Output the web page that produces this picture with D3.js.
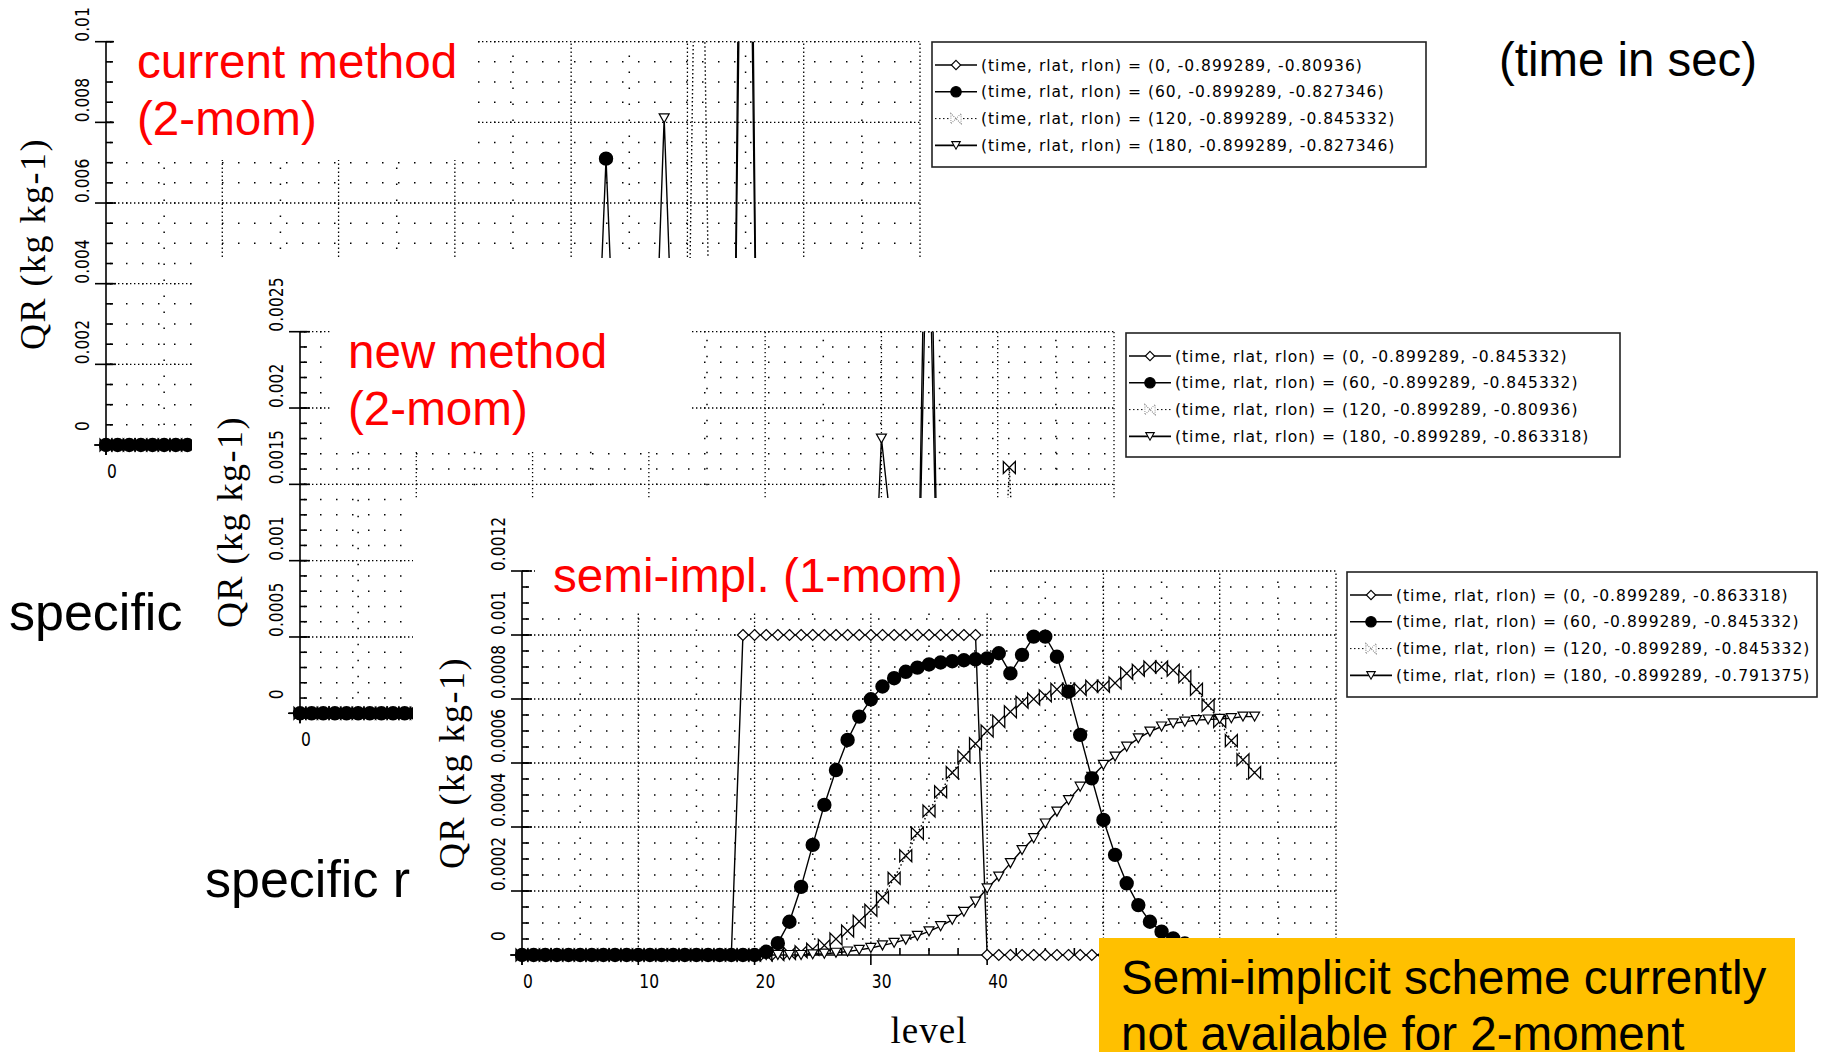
<!DOCTYPE html>
<html>
<head>
<meta charset="utf-8">
<script src="https://cdn.jsdelivr.net/npm/d3@7"></script>
<style>
    html, body { margin: 0; padding: 0; background: #fff; }
    svg { display: block; }
</style>
</head>
<body>
<svg id="chart" width="1839" height="1052"></svg>
<script>
// model levels (x axis) and axis ticks
const levels = d3.range(64);
const levelTicks = [0, 10, 20, 30, 40, 50, 60, 70];
const currentTicks = [0, 0.002, 0.004, 0.006, 0.008, 0.01];
const newTicks = [0, 0.0005, 0.001, 0.0015, 0.002, 0.0025];
const semiTicks = [0, 0.0002, 0.0004, 0.0006, 0.0008, 0.001, 0.0012];

// level labels that are not hidden behind the overlapping pictures
const currentLevelLabels = [0];
const newLevelLabels = [0];
const semiLevelLabels = [0, 10, 20, 30, 40];

// legend labels
const currentLabels = [
    "(time, rlat, rlon) = (0, -0.899289, -0.80936)",
    "(time, rlat, rlon) = (60, -0.899289, -0.827346)",
    "(time, rlat, rlon) = (120, -0.899289, -0.845332)",
    "(time, rlat, rlon) = (180, -0.899289, -0.827346)"
];
const newLabels = [
    "(time, rlat, rlon) = (0, -0.899289, -0.845332)",
    "(time, rlat, rlon) = (60, -0.899289, -0.845332)",
    "(time, rlat, rlon) = (120, -0.899289, -0.80936)",
    "(time, rlat, rlon) = (180, -0.899289, -0.863318)"
];
const semiLabels = [
    "(time, rlat, rlon) = (0, -0.899289, -0.863318)",
    "(time, rlat, rlon) = (60, -0.899289, -0.845332)",
    "(time, rlat, rlon) = (120, -0.899289, -0.845332)",
    "(time, rlat, rlon) = (180, -0.899289, -0.791375)"
];

// QR per level, current method (2-mom)
const current0 = [
    0, 0, 0, 0, 0, 0, 0, 0, 0, 0, 0, 0, 0, 0, 0, 0,
    0, 0, 0, 0, 0, 0, 0, 0, 0, 0, 0, 0, 0, 0, 0, 0,
    0, 0, 0, 0, 0, 0, 0, 0, 0, 0, 0, 0, 0, 0, 0, 0,
    0, 0, 0, 0, 0, 0, 0, 0.03, 0, 0, 0, 0, 0, 0, 0, 0
];
const current60 = [
    0, 0, 0, 0, 0, 0, 0, 0, 0, 0, 0, 0, 0, 0, 0, 0,
    0, 0, 0, 0, 0, 0, 0, 0, 0, 0, 0, 0, 0, 0, 0, 0,
    0, 0, 0, 0, 0, 0, 0, 0, 0, 0, 0, 0.0071, 0, 0, 0, 0,
    0, 0, 0, 0, 0, 0, 0, 0.024, 0, 0, 0, 0, 0, 0, 0, 0
];
const current120 = [
    0, 0, 0, 0, 0, 0, 0, 0, 0, 0, 0, 0, 0, 0, 0, 0,
    0, 0, 0, 0, 0, 0, 0, 0, 0, 0, 0, 0, 0, 0, 0, 0,
    0, 0, 0, 0, 0, 0, 0, 0, 0, 0, 0, 0, 0, 0, 0, 0,
    0, 0, 0, 0.02, 0, 0, 0, 0, 0, 0, 0, 0, 0, 0, 0, 0
];
const current180 = [
    0, 0, 0, 0, 0, 0, 0, 0, 0, 0, 0, 0, 0, 0, 0, 0,
    0, 0, 0, 0, 0, 0, 0, 0, 0, 0, 0, 0, 0, 0, 0, 0,
    0, 0, 0, 0, 0, 0, 0, 0, 0, 0, 0, 0, 0, 0, 0, 0,
    0.0081, 0, 0, 0, 0, 0, 0, 0, 0, 0, 0, 0, 0, 0, 0, 0
];

// QR per level, new method (2-mom)
const new0 = [
    0, 0, 0, 0, 0, 0, 0, 0, 0, 0, 0, 0, 0, 0, 0, 0,
    0, 0, 0, 0, 0, 0, 0, 0, 0, 0, 0, 0, 0, 0, 0, 0,
    0, 0, 0, 0, 0, 0, 0, 0, 0, 0, 0, 0, 0, 0, 0, 0,
    0, 0, 0, 0, 0, 0, 0.0045, 0, 0, 0, 0, 0, 0, 0, 0, 0
];
const new60 = [
    0, 0, 0, 0, 0, 0, 0, 0, 0, 0, 0, 0, 0, 0, 0, 0,
    0, 0, 0, 0, 0, 0, 0, 0, 0, 0, 0, 0, 0, 0, 0, 0,
    0, 0, 0, 0, 0, 0, 0, 0, 0, 0, 0, 0, 0, 0, 0, 0,
    0, 0, 0, 0, 0, 0, 0.0036, 0, 0, 0, 0, 0, 0, 0, 0, 0
];
const new120 = [
    0, 0, 0, 0, 0, 0, 0, 0, 0, 0, 0, 0, 0, 0, 0, 0,
    0, 0, 0, 0, 0, 0, 0, 0, 0, 0, 0, 0, 0, 0, 0, 0,
    0, 0, 0, 0, 0, 0, 0, 0, 0, 0, 0, 0, 0, 0, 0, 0,
    0, 0, 0, 0, 0, 0, 0, 0, 0, 0, 0, 0, 0, 0.00161, 0, 0
];
const new180 = [
    0, 0, 0, 0, 0, 0, 0, 0, 0, 0, 0, 0, 0, 0, 0, 0,
    0, 0, 0, 0, 0, 0, 0, 0, 0, 0, 0, 0, 0, 0, 0, 0,
    0, 0, 0, 0, 0, 0, 0, 0, 0, 0, 0, 0, 0, 0, 0, 0,
    0, 0, 0.0018, 0.0011, 0.00137, 0, 0, 0, 0, 0, 0, 0, 0, 0, 0, 0
];

// QR per level, semi-implicit (1-mom)
const semi0 = [
    0, 0, 0, 0, 0, 0, 0, 0, 0, 0, 0, 0, 0, 0, 0, 0,
    0, 0, 0, 0.001, 0.001, 0.001, 0.001, 0.001, 0.001, 0.001, 0.001, 0.001, 0.001, 0.001, 0.001, 0.001,
    0.001, 0.001, 0.001, 0.001, 0.001, 0.001, 0.001, 0.001, 0, 0, 0, 0, 0, 0, 0, 0,
    0, 0, 0, 0, 0, 0, 0, 0, 0, 0, 0, 0, 0, 0, 0, 0
];
const semi60 = [
    0, 0, 0, 0, 0, 0, 0, 0, 0, 0, 0, 0, 0, 0, 0, 0,
    0, 0, 0, 0, 0, 0.00001, 0.000037, 0.000104, 0.000213, 0.000344, 0.000469, 0.000578, 0.000672, 0.000745, 0.000799, 0.000839,
    0.000865, 0.000885, 0.000898, 0.000908, 0.000914, 0.000918, 0.000921, 0.000924, 0.000927, 0.000943, 0.00088, 0.000938, 0.000995, 0.000995, 0.000932, 0.000823,
    0.000688, 0.000552, 0.000422, 0.000313, 0.000224, 0.000156, 0.000104, 0.000073, 0.000052, 0.000036, 0.000025, 0.000017, 0.000011, 0.000007, 0.000004, 0.000002
];
const semi120 = [
    0, 0, 0, 0, 0, 0, 0, 0, 0, 0, 0, 0, 0, 0, 0, 0,
    0, 0, 0, 0, 0, 0, 0.000002, 0.000005, 0.00001, 0.000018, 0.00003, 0.00005, 0.000075, 0.000105, 0.00014, 0.00018,
    0.00024, 0.00031, 0.00038, 0.00045, 0.00051, 0.00057, 0.00062, 0.00066, 0.0007, 0.00073, 0.00076, 0.00079, 0.0008, 0.00081, 0.00083, 0.00083,
    0.00083, 0.00084, 0.00084, 0.00085, 0.00088, 0.00089, 0.0009, 0.0009, 0.00089, 0.00087, 0.00083, 0.00078, 0.00073, 0.00067, 0.00061, 0.00057
];
const semi180 = [
    0, 0, 0, 0, 0, 0, 0, 0, 0, 0, 0, 0, 0, 0, 0, 0,
    0, 0, 0, 0, 0, 0, 0, 0, 0, 0.000002, 0.000004, 0.000007, 0.000011, 0.000016, 0.000022, 0.00003,
    0.000038, 0.000048, 0.00006, 0.000074, 0.00009, 0.00011, 0.000135, 0.000167, 0.000208, 0.000245, 0.000287, 0.000328, 0.000365, 0.000411, 0.000448, 0.000484,
    0.000526, 0.000557, 0.000594, 0.00062, 0.000651, 0.000677, 0.000698, 0.000714, 0.000724, 0.000729, 0.000734, 0.000736, 0.000738, 0.00074, 0.000745, 0.000745
];

const shapes = {
    diamond: "M0,-5.5L5.5,0L0,5.5L-5.5,0Z",
    circle: "M6.2,0A6.2,6.2 0 1,1 -6.2,0A6.2,6.2 0 1,1 6.2,0Z",
    bowtie: "M-6,-6L-6,6L6,-6L6,6Z",
    triangle: "M-5,-4.5L5,-4.5L0,4.5Z"
};

// one style per time (0, 60, 120, 180 s)
const seriesStyle = [
    { shape: shapes.diamond, fill: "#fff", dash: null, width: 1.2 },
    { shape: shapes.circle, fill: "#000", dash: null, width: 2 },
    { shape: shapes.bowtie, fill: "#fff", dash: "1.5,2.5", width: 1.3 },
    { shape: shapes.triangle, fill: "#fff", dash: null, width: 1.2 }
];

const svg = d3.select("#chart");
svg.append("rect").attr("width", 1839).attr("height", 1052).attr("fill", "#fff");

function drawPanel(p) {
    const x = d3.scaleLinear().domain([0, 70]).range([p.left, p.left + 814]);
    const y = d3.scaleLinear().domain([0, p.yMax]).range([p.bottom, p.top]);
    const g = svg.append("g");

    if (p.image) {
        g.append("rect")
            .attr("x", p.image[0]).attr("y", p.image[1])
            .attr("width", p.image[2]).attr("height", p.image[3])
            .attr("fill", "#fff");
    }

    const clipId = "clip-" + p.name;
    g.append("clipPath").attr("id", clipId).append("rect")
        .attr("x", p.left - 10).attr("y", p.top)
        .attr("width", 834).attr("height", p.bottom - p.top + 12);

    // dotted background
    const minorCount = Math.round(p.yMax / p.yMinor);
    const minorY = d3.range(1, minorCount + 1).map(i => i * p.yMinor);
    const grid = g.append("g").attr("stroke", "#000").attr("fill", "none");

    grid.selectAll(".minor-row")
        .data(minorY)
        .join("line")
        .attr("x1", x(0) + 4).attr("x2", x(70))
        .attr("y1", d => y(d)).attr("y2", d => y(d))
        .attr("stroke-width", 1.5)
        .attr("stroke-dasharray", "1.5,14.5");

    grid.selectAll(".minor-col")
        .data([5, 15, 25, 35, 45, 55, 65])
        .join("line")
        .attr("x1", d => x(d)).attr("x2", d => x(d))
        .attr("y1", y(0) - 4).attr("y2", y(p.yMax))
        .attr("stroke-width", 1.5)
        .attr("stroke-dasharray", "1.5,14.5");

    grid.selectAll(".major-row")
        .data(p.ticks.filter(t => t > 0))
        .join("line")
        .attr("x1", x(0)).attr("x2", x(70))
        .attr("y1", d => y(d)).attr("y2", d => y(d))
        .attr("stroke-width", 1.3)
        .attr("stroke-dasharray", "1.4,2.6");

    grid.selectAll(".major-col")
        .data(levelTicks.filter(t => t > 0))
        .join("line")
        .attr("x1", d => x(d)).attr("x2", d => x(d))
        .attr("y1", y(0)).attr("y2", y(p.yMax))
        .attr("stroke-width", 1.3)
        .attr("stroke-dasharray", "1.4,2.6");

    // axes
    const axis = g.append("g").attr("stroke", "#000").attr("stroke-width", 1.6);
    axis.append("line")
        .attr("x1", p.left).attr("x2", p.left)
        .attr("y1", y(0) + 10).attr("y2", y(p.yMax));
    axis.append("line")
        .attr("x1", p.left - 12).attr("x2", x(70))
        .attr("y1", y(0)).attr("y2", y(0));

    axis.selectAll(".ytick")
        .data(p.ticks)
        .join("line")
        .attr("x1", p.left - 11).attr("x2", p.left + 10)
        .attr("y1", d => y(d)).attr("y2", d => y(d));

    axis.selectAll(".yminor")
        .data(minorY)
        .join("line")
        .attr("x1", p.left).attr("x2", p.left + 7)
        .attr("y1", d => y(d)).attr("y2", d => y(d));

    axis.selectAll(".xtick")
        .data(levelTicks)
        .join("line")
        .attr("x1", d => x(d)).attr("x2", d => x(d))
        .attr("y1", y(0)).attr("y2", y(0) + 10);

    axis.selectAll(".xminor")
        .data([2.5, 5, 7.5, 12.5, 15, 17.5, 22.5, 25, 27.5, 32.5, 35, 37.5, 42.5, 45, 47.5, 52.5, 55, 57.5, 62.5, 65, 67.5])
        .join("line")
        .attr("x1", d => x(d)).attr("x2", d => x(d))
        .attr("y1", y(0)).attr("y2", y(0) - 7);

    // tick labels
    g.append("g").selectAll("text")
        .data(p.ticks)
        .join("text")
        .attr("transform", d => `translate(${p.left - 17},${y(d) - (d === 0 ? 14 : 0)}) rotate(-90) scale(1,1.3)`)
        .attr("font-family", "DejaVu Sans")
        .attr("font-size", 15.5)
        .attr("fill", "#000")
        .text(d => String(d));

    g.append("g").selectAll("text")
        .data(p.levelLabels)
        .join("text")
        .attr("transform", d => `translate(${x(d) + 1},${y(0) + 33}) scale(1,1.3)`)
        .attr("font-family", "DejaVu Sans")
        .attr("font-size", 15.5)
        .attr("fill", "#000")
        .text(d => String(d));

    // axis title
    g.append("text")
        .attr("transform", `translate(${p.titleX},${p.titleY}) rotate(-90)`)
        .attr("text-anchor", "middle")
        .attr("font-family", "Liberation Serif, serif")
        .attr("font-size", 36)
        .attr("letter-spacing", 1.5)
        .attr("fill", "#000")
        .text("QR (kg kg-1)");

    // series: filled circles go last so the zero band stays black
    const plot = g.append("g").attr("clip-path", `url(#${clipId})`);
    const line = d3.line()
        .x((d, i) => x(levels[i]))
        .y(d => y(d));

    [0, 2, 3, 1].forEach(k => {
        const s = p.series[k];
        const st = seriesStyle[k];
        plot.append("path")
            .datum(s)
            .attr("d", line)
            .attr("fill", "none")
            .attr("stroke", "#000")
            .attr("stroke-width", 1.4)
            .attr("stroke-dasharray", st.dash);

        plot.append("g").selectAll("path")
            .data(s)
            .join("path")
            .attr("transform", (d, i) => `translate(${x(levels[i])},${y(d)})`)
            .attr("d", st.shape)
            .attr("fill", st.fill)
            .attr("stroke", "#000")
            .attr("stroke-width", st.width);
    });

    if (p.xTitle) {
        g.append("text")
            .attr("x", 929).attr("y", 1043)
            .attr("text-anchor", "middle")
            .attr("font-family", "Liberation Serif, serif")
            .attr("font-size", 37)
            .attr("letter-spacing", 1)
            .attr("fill", "#000")
            .text("level");
    }

    // legend
    const lg = g.append("g");
    lg.append("rect")
        .attr("x", p.legend[0]).attr("y", p.legend[1])
        .attr("width", p.legend[2]).attr("height", p.legend[3])
        .attr("fill", "#fff")
        .attr("stroke", "#222")
        .attr("stroke-width", 1.6);

    const rows = lg.selectAll(".row")
        .data(p.labels)
        .join("g")
        .attr("transform", (d, i) => `translate(${p.legend[0]},${p.legend[1] + 23 + i * 26.8})`);

    rows.append("line")
        .attr("x1", 3).attr("x2", 45)
        .attr("stroke", "#000")
        .attr("stroke-width", (d, i) => i === 2 ? 1 : 1.6)
        .attr("stroke-dasharray", (d, i) => seriesStyle[i].dash);

    rows.append("path")
        .attr("transform", "translate(24,0) scale(0.85)")
        .attr("d", (d, i) => seriesStyle[i].shape)
        .attr("fill", (d, i) => seriesStyle[i].fill)
        .attr("stroke", (d, i) => i === 2 ? "#777" : "#000")
        .attr("stroke-dasharray", (d, i) => i === 2 ? "1,1.5" : null)
        .attr("stroke-width", 1.3);

    rows.append("text")
        .attr("x", 49).attr("y", 5.5)
        .attr("font-family", "DejaVu Sans")
        .attr("font-size", 15.5)
        .attr("letter-spacing", 1)
        .attr("fill", "#000")
        .text(d => d);
}

function labelBox(box, lines, x, baselines, color) {
    svg.append("rect")
        .attr("x", box[0]).attr("y", box[1])
        .attr("width", box[2]).attr("height", box[3])
        .attr("fill", "#fff");
    svg.append("g").selectAll("text")
        .data(lines)
        .join("text")
        .attr("x", x)
        .attr("y", (d, i) => baselines[i])
        .attr("font-family", "Liberation Sans, Arial, sans-serif")
        .attr("font-size", 47.6)
        .attr("fill", color)
        .text(d => d);
}

function plainText(str, x, yPos, size) {
    svg.append("text")
        .attr("x", x).attr("y", yPos)
        .attr("font-family", "Liberation Sans, Arial, sans-serif")
        .attr("font-size", size)
        .attr("fill", "#000")
        .text(str);
}

// current method (2-mom)
drawPanel({
    name: "current", left: 106, top: 41.7, bottom: 445, yMax: 0.01, yMinor: 0.0005,
    ticks: currentTicks, levelLabels: currentLevelLabels, titleX: 45, titleY: 244,
    series: [current0, current60, current120, current180],
    legend: [932, 42, 494, 125], labels: currentLabels
});
labelBox([114, 0, 364, 160], ["current method", "(2-mom)"], 137, [78, 135], "#ff0000");
plainText("specific", 9, 630, 52);

// new method (2-mom)
drawPanel({
    name: "new", left: 300, top: 331.7, bottom: 713.3, yMax: 0.0025, yMinor: 0.0001,
    ticks: newTicks, levelLabels: newLevelLabels, titleX: 242, titleY: 522, image: [192, 258, 1433, 505],
    series: [new0, new60, new120, new180],
    legend: [1126, 333, 494, 124], labels: newLabels
});
labelBox([330, 262, 360, 188], ["new method", "(2-mom)"], 348, [368, 425], "#ff0000");
plainText("specific r", 205, 897, 52);

// semi-implicit (1-mom)
drawPanel({
    name: "semi", left: 522, top: 571, bottom: 955, yMax: 0.0012, yMinor: 0.00005,
    ticks: semiTicks, levelLabels: semiLevelLabels, titleX: 464, titleY: 763,
    image: [413, 498, 1426, 554], xTitle: true,
    series: [semi0, semi60, semi120, semi180],
    legend: [1347, 572, 470, 125], labels: semiLabels
});
labelBox([535, 505, 455, 107], ["semi-impl. (1-mom)"], 553, [592], "#ff0000");

// note box
svg.append("rect")
    .attr("x", 1099).attr("y", 938)
    .attr("width", 696).attr("height", 120)
    .attr("fill", "#ffc000");
svg.append("g").selectAll("text")
    .data(["Semi-implicit scheme currently", "not available for 2-moment"])
    .join("text")
    .attr("x", 1121)
    .attr("y", (d, i) => 994 + i * 56)
    .attr("font-family", "Liberation Sans, Arial, sans-serif")
    .attr("font-size", 47.6)
    .attr("fill", "#000")
    .text(d => d);

plainText("(time in sec)", 1499, 76, 47.4);
</script>
</body>
</html>
